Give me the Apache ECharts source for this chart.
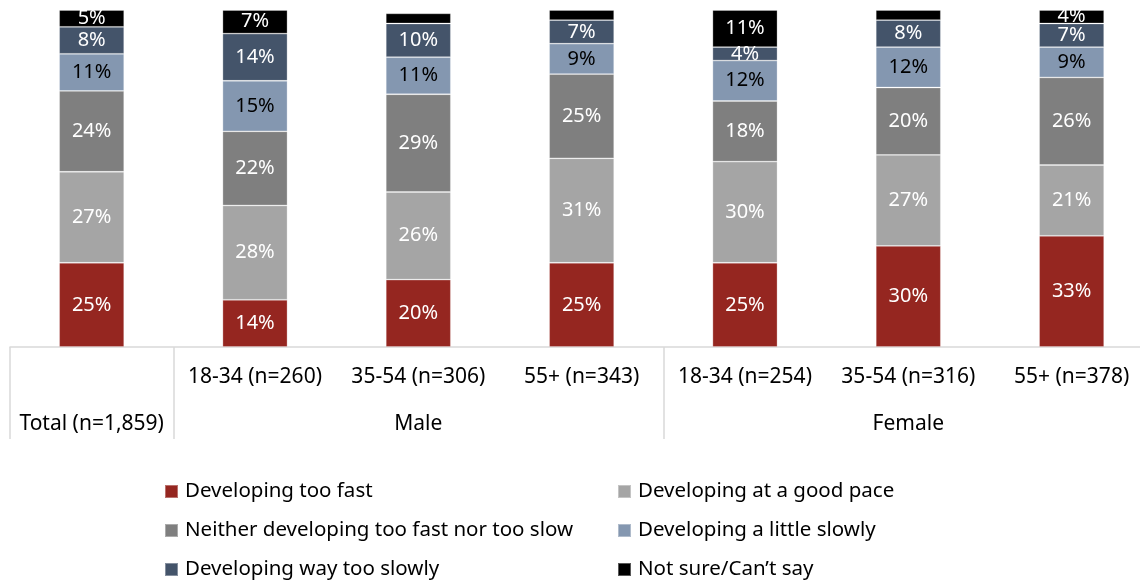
<!DOCTYPE html>
<html>
<head>
<meta charset="utf-8">
<script src="https://cdn.jsdelivr.net/npm/echarts@6/dist/echarts.min.js"></script>
<style>
html,body{margin:0;padding:0;background:#fff;}
#chart{width:1140px;height:580px;}
</style>
</head>
<body>
<div id="chart"></div>
<script>
// ---- data ----
const categories = ['Total (n=1,859)', 'Male 18-34 (n=260)', 'Male 35-54 (n=306)', 'Male 55+ (n=343)', 'Female 18-34 (n=254)', 'Female 35-54 (n=316)', 'Female 55+ (n=378)'];
const subLabels = ['', '18-34 (n=260)', '35-54 (n=306)', '55+ (n=343)', '18-34 (n=254)', '35-54 (n=316)', '55+ (n=378)'];
const groupLabels = ['Total (n=1,859)', '', 'Male', '', '', 'Female', ''];
const groupStarts = [0, 1, 4];

const seriesNames = ['Developing too fast', 'Developing at a good pace', 'Neither developing too fast nor too slow', 'Developing a little slowly', 'Developing way too slowly', 'Not sure/Can\u2019t say'];
const tooFast   = [25, 14, 20, 25, 25, 30, 33];
const goodPace  = [27, 28, 26, 31, 30, 27, 21];
const neither   = [24, 22, 29, 25, 18, 20, 26];
const little    = [11, 15, 11, 9, 12, 12, 9];
const wayToo    = [8, 14, 10, 7, 4, 8, 7];
const notSure   = [5, 7, 3, 3, 11, 3, 4];

const values = [tooFast, goodPace, neither, little, wayToo, notSure];
const colors = ['#952620', '#a5a5a5', '#7f7f7f', '#8497b0', '#44546a', '#000000'];
const labelColors = ['#fff', '#fff', '#fff', '#000', '#fff', '#fff'];
const FONT = 'Noto Sans';

const chart = echarts.init(document.getElementById('chart'));

const series = seriesNames.map((name, i) => ({
  name: name,
  type: 'bar',
  stack: 'total',
  barWidth: 65,
  xAxisIndex: 0,
  data: values[i],
  itemStyle: { color: colors[i], borderColor: 'rgba(255,255,255,0.35)', borderWidth: 0.8 },
  label: {
    show: true,
    position: 'inside',
    fontFamily: FONT,
    fontSize: 20,
    color: labelColors[i],
    formatter: p => (p.value >= 4 ? p.value + '%' : '')
  },
  emphasis: { disabled: true }
}));

const legendCommon = {
  orient: 'vertical',
  top: 481,
  padding: 0,
  icon: 'rect',
  itemWidth: 13,
  itemHeight: 13,
  itemGap: 18,
  textStyle: { fontFamily: FONT, fontSize: 20.5, color: '#000', lineHeight: 20, padding: [0, 0, 0, 2] },
  selectedMode: false
};

chart.setOption({
  backgroundColor: '#fff',
  animation: false,
  grid: { left: 10, top: 10, width: 1143.3, height: 337, containLabel: false, outerBoundsMode: 'none' },
  legend: [
    Object.assign({}, legendCommon, { left: 164, data: [seriesNames[0], seriesNames[2], seriesNames[4]] }),
    Object.assign({}, legendCommon, { left: 617, data: [seriesNames[1], seriesNames[3], seriesNames[5]] })
  ],
  xAxis: [{
    type: 'category',
    data: categories,
    axisLine: { show: true, lineStyle: { color: '#d9d9d9', width: 1.5 } },
    axisTick: { show: false },
    axisLabel: {
      interval: 0,
      margin: 7,
      fontFamily: FONT,
      fontSize: 21,
      lineHeight: 47,
      color: '#000',
      formatter: (v, idx) => subLabels[idx] + '\n' + groupLabels[idx]
    }
  }, {
    type: 'value',
    position: 'bottom',
    min: 0,
    max: categories.length,
    axisLine: { show: false },
    splitLine: { show: false },
    axisLabel: { show: false },
    axisTick: {
      show: true,
      length: 92,
      customValues: groupStarts,
      lineStyle: { color: '#d9d9d9', width: 1.5 }
    }
  }],
  yAxis: {
    type: 'value',
    min: 0,
    max: 100,
    show: false
  },
  series: series
});
</script>
</body>
</html>
